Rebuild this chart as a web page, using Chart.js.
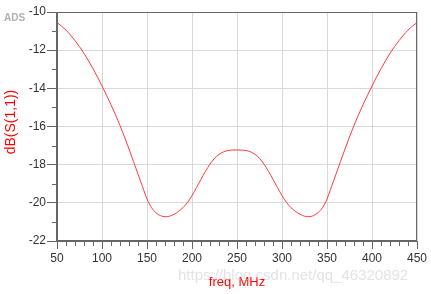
<!DOCTYPE html>
<html>
<head>
<meta charset="utf-8">
<script src="https://cdn.jsdelivr.net/npm/chart.js@4"></script>
<style>
  html, body { margin: 0; padding: 0; background: #fff; }
  #wrap { width: 431px; height: 294px; }
</style>
</head>
<body>
<div id="wrap"><canvas id="chart" width="431" height="294"></canvas></div>
<script>
// frequency (MHz) and S11 (dB)
const freq = [50, 55, 60, 65, 70, 75, 80, 85, 90, 95, 100, 105, 110, 115, 120, 125, 130, 135, 140, 145,
              150, 155, 160, 165, 170, 175, 180, 185, 190, 195, 200, 205, 210, 215, 220, 225, 230, 235, 240, 245,
              250, 255, 260, 265, 270, 275, 280, 285, 290, 295, 300, 305, 310, 315, 320, 325, 330, 335, 340, 345,
              350, 355, 360, 365, 370, 375, 380, 385, 390, 395, 400, 405, 410, 415, 420, 425, 430, 435, 440, 445, 450];
const s11 = [-10.55, -10.74, -10.95, -11.21, -11.5, -11.82, -12.17, -12.56, -12.97, -13.41,
             -13.88, -14.36, -14.86, -15.39, -15.95, -16.55, -17.18, -17.83, -18.5, -19.15,
             -19.8, -20.25, -20.52, -20.67, -20.73, -20.7, -20.6, -20.45, -20.25, -19.98,
             -19.62, -19.2, -18.77, -18.35, -17.97, -17.67, -17.46, -17.33, -17.26, -17.235,
             -17.23,
             -17.235, -17.26, -17.33, -17.46, -17.67, -17.97, -18.35, -18.77, -19.2, -19.62,
             -19.98, -20.25, -20.45, -20.6, -20.7, -20.73, -20.67, -20.52, -20.25, -19.8,
             -19.15, -18.5, -17.83, -17.18, -16.55, -15.95, -15.39, -14.86, -14.36, -13.88,
             -13.41, -12.97, -12.56, -12.17, -11.82, -11.5, -11.21, -10.95, -10.74, -10.55];
const xTickLabels = [50, 100, 150, 200, 250, 300, 350, 400, 450];
const yTickLabels = [-10, -12, -14, -16, -18, -20, -22];

const axisColor = "#666";
const gridColor = "#d9d9d9";
const font = "Arial, 'Liberation Sans', sans-serif";

const frame = {
  id: "frame",
  afterDraw(chart) {
    const ctx = chart.ctx;
    const a = chart.chartArea;
    const x = chart.scales.x;
    const y = chart.scales.y;
    ctx.save();
    ctx.strokeStyle = axisColor;
    ctx.lineWidth = 1;
    // minor ticks
    for (let v = -21; v <= -11; v += 2) {
      const py = Math.round(y.getPixelForValue(v)) + 0.5;
      ctx.beginPath();
      ctx.moveTo(a.left - 5, py);
      ctx.lineTo(a.left, py);
      ctx.stroke();
    }
    for (let v = 60; v < 450; v += 10) {
      if (v % 50 === 0) continue;
      const px = Math.round(x.getPixelForValue(v)) + 0.5;
      ctx.beginPath();
      ctx.moveTo(px, a.bottom);
      ctx.lineTo(px, a.bottom + 5);
      ctx.stroke();
    }
    // top / right border
    ctx.strokeRect(a.left, a.top + 0.5, a.right - a.left - 0.5, a.bottom - a.top);
    // thick left / bottom axis
    ctx.lineWidth = 2;
    ctx.beginPath();
    ctx.moveTo(a.left, a.top);
    ctx.lineTo(a.left, a.bottom);
    ctx.lineTo(a.right, a.bottom);
    ctx.stroke();
    // y title
    ctx.fillStyle = "#ff0000";
    ctx.font = "14px " + font;
    ctx.textAlign = "center";
    ctx.textBaseline = "middle";
    ctx.translate(11, 122);
    ctx.rotate(-Math.PI / 2);
    ctx.fillText("dB(S(1,1))", 0, 0);
    ctx.setTransform(1, 0, 0, 1, 0, 0);
    // ADS tag
    ctx.textAlign = "left";
    ctx.fillStyle = "#b0b0b0";
    ctx.font = "bold 10px " + font;
    ctx.fillText("ADS", 4, 18);
    // watermark
    ctx.fillStyle = "rgba(200,200,200,0.5)";
    ctx.font = "15px " + font;
    ctx.fillText("https://blog.csdn.net/qq_46320892", 178, 276);
    ctx.restore();
  }
};

new Chart(document.getElementById("chart"), {
  type: "line",
  data: {
    datasets: [{
      data: freq.map((f, i) => ({ x: f, y: s11[i] })),
      borderColor: "#ff3a3a",
      borderWidth: 1,
      pointRadius: 0,
      cubicInterpolationMode: "monotone",
      fill: false
    }]
  },
  options: {
    responsive: false,
    animation: false,
    layout: { padding: { top: 12, right: 14, left: 0, bottom: 0 } },
    plugins: { legend: { display: false }, tooltip: { enabled: false } },
    scales: {
      x: {
        type: "linear",
        min: 50,
        max: 450,
        afterFit: s => { s.height = 53; },
        afterBuildTicks: s => { s.ticks = xTickLabels.map(v => ({ value: v })); },
        ticks: {
          autoSkip: false,
          maxRotation: 0,
          padding: 2,
          color: "#333",
          font: { family: font, size: 12 }
        },
        grid: {
          color: gridColor,
          tickColor: axisColor,
          tickLength: 8,
          lineWidth: 1
        },
        border: { display: false },
        title: {
          display: true,
          text: "freq, MHz",
          color: "#ff0000",
          font: { family: font, size: 13 },
          padding: { top: 0, bottom: 4 }
        }
      },
      y: {
        min: -22,
        max: -10,
        afterFit: s => { s.width = 57; },
        afterBuildTicks: s => { s.ticks = yTickLabels.map(v => ({ value: v })); },
        ticks: {
          padding: 1,
          color: "#333",
          font: { family: font, size: 12 }
        },
        grid: {
          color: gridColor,
          tickColor: axisColor,
          tickLength: 10,
          lineWidth: 1
        },
        border: { display: false },
        title: { display: false }
      }
    }
  },
  plugins: [frame]
});
</script>
</body>
</html>
